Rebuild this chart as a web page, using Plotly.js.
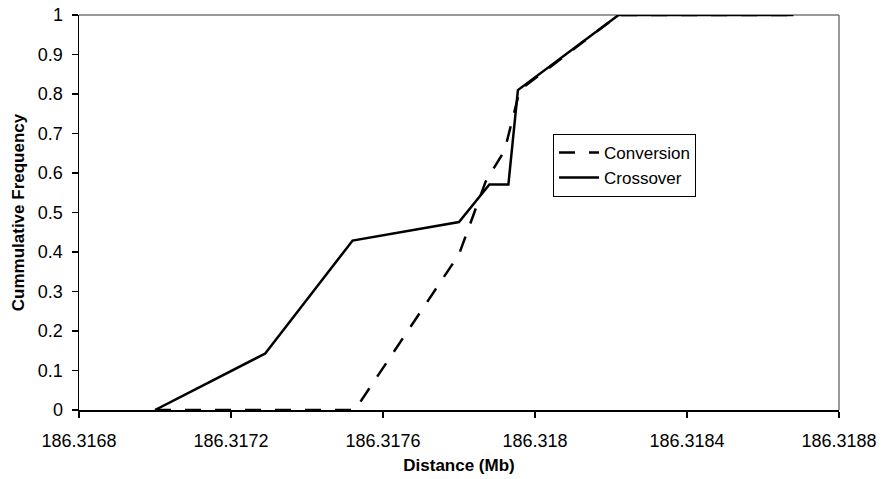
<!DOCTYPE html>
<html>
<head>
<meta charset="utf-8">
<script src="https://cdn.plot.ly/plotly-3.0.1.min.js"></script>
<style>html,body{margin:0;padding:0;background:#fff;}#chart{width:882px;height:479px;}</style>
</head>
<body>
<div id="chart"></div>
<script>
// Data
const conversionX = [186.3170, 186.317526, 186.3178, 186.31787, 186.31792, 186.31796, 186.31822, 186.31868];
const conversionY = [0, 0, 0.394, 0.578, 0.657, 0.81, 1, 1];
const crossoverX = [186.3170, 186.31729, 186.31752, 186.3178, 186.31788, 186.31793, 186.317955, 186.31822, 186.31868];
const crossoverY = [0, 0.143, 0.429, 0.476, 0.571, 0.571, 0.81, 1, 1];
const xTickVals = [186.3168, 186.3172, 186.3176, 186.3180, 186.3184, 186.3188];
const xTickText = ["186.3168", "186.3172", "186.3176", "186.318", "186.3184", "186.3188"];
const seriesNames = ["Conversion", "Crossover"];

const FONT = "Liberation Sans, Arial, Helvetica, sans-serif";

const traces = [
  {x: conversionX, y: conversionY, name: seriesNames[0], mode: "lines", type: "scatter",
   line: {color: "#000", width: 2.5, dash: "16px,14px"}},
  {x: crossoverX, y: crossoverY, name: seriesNames[1], mode: "lines", type: "scatter",
   line: {color: "#000", width: 2.5}}
];

const layout = {
  width: 882, height: 479,
  margin: {l: 79, r: 43, t: 15, b: 69, pad: 0},
  paper_bgcolor: "#fff", plot_bgcolor: "#fff",
  font: {family: FONT, size: 17, color: "#000"},
  showlegend: true,
  legend: {x: 0.6237, y: 0.699, xanchor: "left", yanchor: "top",
           bordercolor: "#000", borderwidth: 1, bgcolor: "#fff", itemwidth: 40,
           font: {family: FONT, size: 17, color: "#000"}, tracegroupgap: 0},
  xaxis: {
    range: [186.3168, 186.3188], tickmode: "array", tickvals: xTickVals, ticktext: xTickText,
    showgrid: false, zeroline: false, showline: true, linecolor: "#000", linewidth: 1.5,
    ticks: "outside", ticklen: 6, tickcolor: "#000", tickwidth: 1.5, ticklabelstandoff: 8,
    tickfont: {family: FONT, size: 18, color: "#000"},
    title: {text: "<b>Distance (Mb)</b>", font: {family: FONT, size: 17, color: "#000"}, standoff: 9},
    fixedrange: true
  },
  yaxis: {
    range: [0, 1], dtick: 0.1, tick0: 0,
    showgrid: false, zeroline: false, showline: true, linecolor: "#000", linewidth: 1.5,
    ticks: "outside", ticklen: 6, tickcolor: "#000", tickwidth: 1.5, ticklabelstandoff: 5,
    tickfont: {family: FONT, size: 18, color: "#000"},
    title: {text: "<b>Cummulative Frequency</b>", font: {family: FONT, size: 17, color: "#000"}, standoff: 9},
    fixedrange: true
  },
  shapes: [
    {type: "line", xref: "paper", yref: "paper", x0: 0, x1: 1, y0: 1, y1: 1, line: {color: "#777", width: 1.5}, layer: "below"},
    {type: "line", xref: "paper", yref: "paper", x0: 1, x1: 1, y0: 0, y1: 1, line: {color: "#777", width: 1.5}, layer: "below"}
  ]
};

Plotly.newPlot("chart", traces, layout, {displayModeBar: false, staticPlot: true});
</script>
</body>
</html>
